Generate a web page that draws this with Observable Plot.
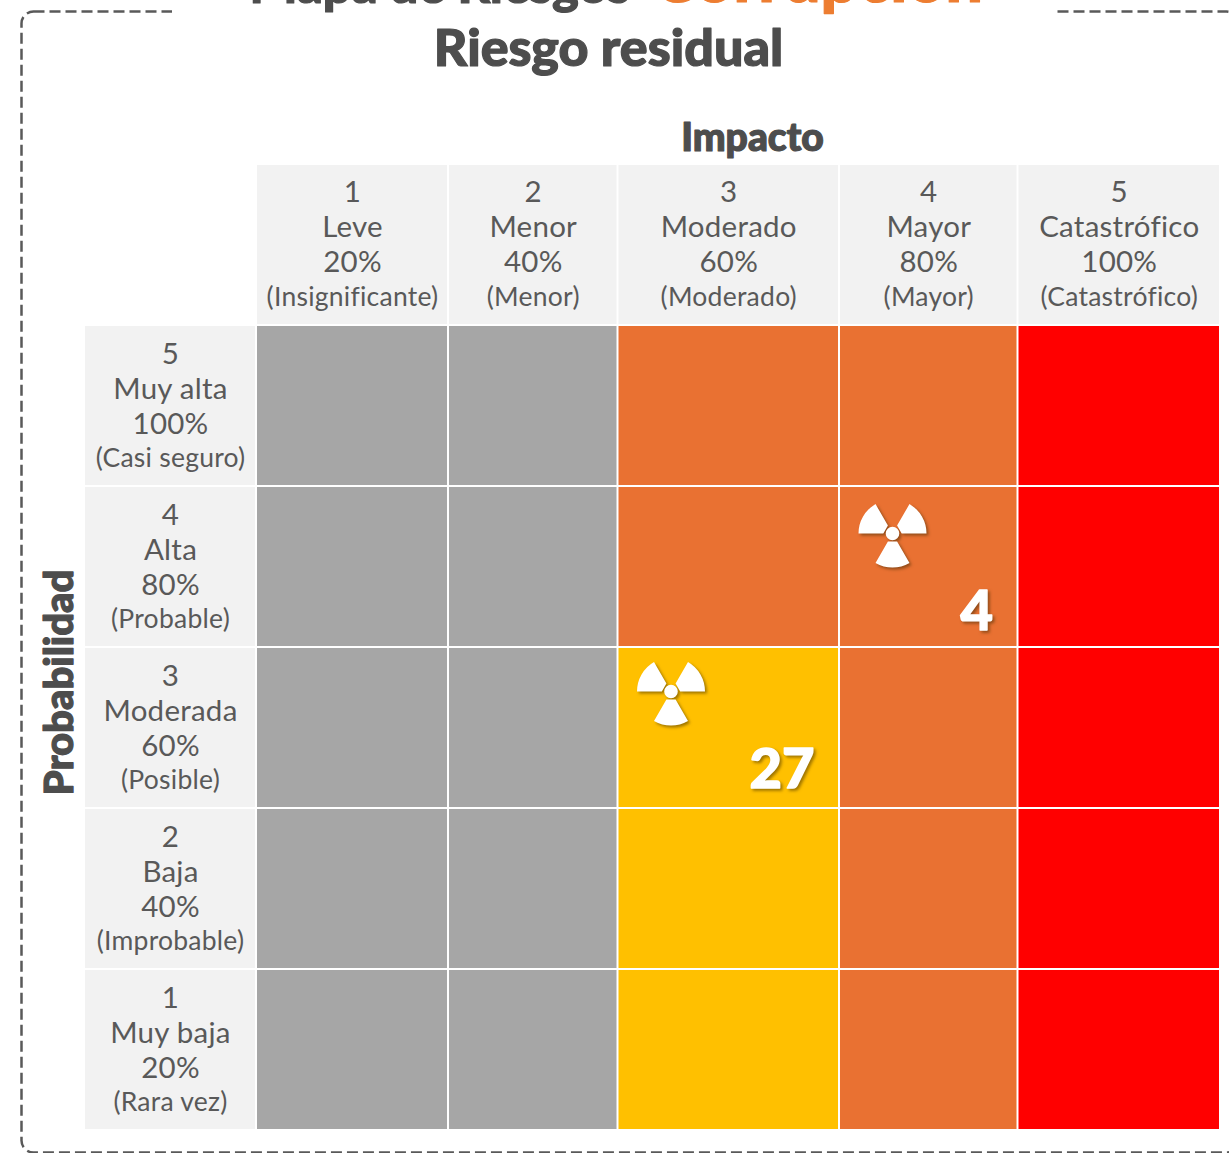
<!DOCTYPE html>
<html><head><meta charset="utf-8">
<script src="https://cdn.jsdelivr.net/npm/d3@7"></script>
<script src="https://cdn.jsdelivr.net/npm/@observablehq/plot@0.6"></script>
<style>
html,body{margin:0;padding:0;background:#fff;overflow:hidden}
svg{display:block}
.shadow{filter:drop-shadow(2px 2px 1.5px rgba(60,40,0,.5))}
.lbl text{letter-spacing:.25px}
</style></head><body>
<script>
const impactNum=["1","2","3","4","5"];
const impactName=["Leve","Menor","Moderado","Mayor","Catastrófico"];
const impactPct=["20%","40%","60%","80%","100%"];
const impactAlt=["(Insignificante)","(Menor)","(Moderado)","(Mayor)","(Catastrófico)"];
const probNum=["1","2","3","4","5"];
const probName=["Muy baja","Baja","Moderada","Alta","Muy alta"];
const probPct=["20%","40%","60%","80%","100%"];
const probAlt=["(Rara vez)","(Improbable)","(Posible)","(Probable)","(Casi seguro)"];
const levels=[
 ["bajo","bajo","medio","alto","extremo"],
 ["bajo","bajo","medio","alto","extremo"],
 ["bajo","bajo","medio","alto","extremo"],
 ["bajo","bajo","alto","alto","extremo"],
 ["bajo","bajo","alto","alto","extremo"]];
const levelNames=["bajo","medio","alto","extremo"];
const levelColors=["#A6A6A6","#FFC000","#E97132","#FF0000"];
const riskImpact=[4,3];
const riskProb=[4,3];
const riskCount=[4,27];

const iconDy=[47,44];
const countDy=[-35,-38];
const colEdges=[84,256,448,617.5,839,1017.5,1220];
const rowEdges=[1130,969,808,647,486,325,164];
const FONT="Lato, 'Noto Sans', sans-serif";
const INK="#595959", DARK="#4D4D4D";

const cells=levels.flatMap((r,p)=>r.map((l,i)=>({impact:i+1,prob:p+1,level:l})));
const colHeads=impactNum.map((n,i)=>({c:i+1,n,name:impactName[i],pct:impactPct[i],alt:impactAlt[i]}));
const rowHeads=probNum.map((n,i)=>({r:i+1,n,name:probName[i],pct:probPct[i],alt:probAlt[i]}));
const risks=riskCount.map((n,i)=>({impact:riskImpact[i],prob:riskProb[i],n,iconDy:iconDy[i],countDy:countDy[i]}));

const trefoil={draw(ctx,size){
  const R=Math.sqrt(size/Math.PI), ri=R*0.27, hub=R*0.2;
  for(const a of [Math.PI,-Math.PI/3,Math.PI/3]){
    const a1=a+Math.PI/3;
    ctx.moveTo(Math.cos(a)*ri,Math.sin(a)*ri);
    ctx.lineTo(Math.cos(a)*R,Math.sin(a)*R);
    ctx.arc(0,0,R,a,a1);
    ctx.lineTo(Math.cos(a1)*ri,Math.sin(a1)*ri);
    ctx.closePath();
  }
  ctx.moveTo(hub,0);ctx.arc(0,0,hub,0,2*Math.PI);ctx.closePath();
}};

const heads=(data,xf,yf,offsets)=>[["n",29.5,offsets[0]],["name",29.5,offsets[1]],["pct",29.5,offsets[2]],["alt",26.5,offsets[3]]]
  .map(([k,fs,dy])=>Plot.text(data,{x:xf,y:yf,text:k,dy,fontSize:fs,fontFamily:FONT,fill:INK,className:"lbl"}));

const heavy={fontWeight:900,fontFamily:FONT,fill:DARK,stroke:DARK,strokeWidth:1.2,textAnchor:"middle",lineAnchor:"middle",frameAnchor:"top-left"};

const chart=Plot.plot({
  width:1229,height:1153,margin:0,
  style:{background:"#fff",fontFamily:FONT},
  x:{type:"linear",domain:[0,1,2,3,4,5,6],range:colEdges,axis:null},
  y:{type:"linear",domain:[0,1,2,3,4,5,6],range:rowEdges,axis:null},
  color:{type:"ordinal",domain:levelNames,range:levelColors},
  marks:[
    Plot.frame({stroke:INK,strokeWidth:2.5,strokeDasharray:"11 5",rx:12,insetLeft:21,insetTop:11,insetBottom:1,insetRight:-9}),
    Plot.rect([0],{fill:"#fff",insetLeft:172,insetRight:172,insetTop:0,insetBottom:1130}),
    Plot.text(["Mapa de Riesgos"],{...heavy,text:d=>d,textAnchor:"start",lineAnchor:"bottom",dx:249,dy:2,fontSize:50.5}),
    Plot.text(["Corrupción"],{...heavy,text:d=>d,textAnchor:"start",lineAnchor:"bottom",dx:652,dy:1,fontSize:66,fill:"#ED7D31",stroke:"#ED7D31"}),
    Plot.text(["Riesgo residual"],{...heavy,text:d=>d,dx:608,dy:49,fontSize:52}),
    Plot.text(["Impacto"],{...heavy,text:d=>d,dx:752,dy:138,fontSize:39}),
    Plot.text(["Probabilidad"],{...heavy,text:d=>d,dx:60,dy:682,rotate:-90,fontSize:40}),
    Plot.rect(colHeads,{x1:d=>d.c,x2:d=>d.c+1,y1:5,y2:6,fill:"#F2F2F2",inset:1}),
    Plot.rect(rowHeads,{x1:0,x2:1,y1:d=>d.r-1,y2:d=>d.r,fill:"#F2F2F2",inset:1}),
    Plot.rect(cells,{x1:d=>d.impact,x2:d=>d.impact+1,y1:d=>d.prob-1,y2:d=>d.prob,fill:"level",inset:1}),
    ...heads(colHeads,d=>d.c+0.5,()=>5.5,[-52,-17,18,53]),
    ...heads(rowHeads,()=>0.5,d=>d.r-0.5,[-51.5,-16.5,18.5,52.5]),
    ...risks.map(d=>Plot.dot([d],{x:d=>d.impact,y:d=>d.prob,r:34,dx:53,dy:d.iconDy,symbol:trefoil,fill:"#fff",stroke:"none",className:"shadow"})),
    ...risks.map(d=>Plot.text([d],{x:d=>d.impact+1,y:d=>d.prob-1,text:d=>String(d.n),dx:-25,dy:d.countDy,textAnchor:"end",fontSize:56,fontWeight:900,fontFamily:FONT,fill:"#fff",stroke:"#fff",strokeWidth:1.5,className:"shadow"}))
  ]
});
document.body.appendChild(chart);
</script>
</body></html>
